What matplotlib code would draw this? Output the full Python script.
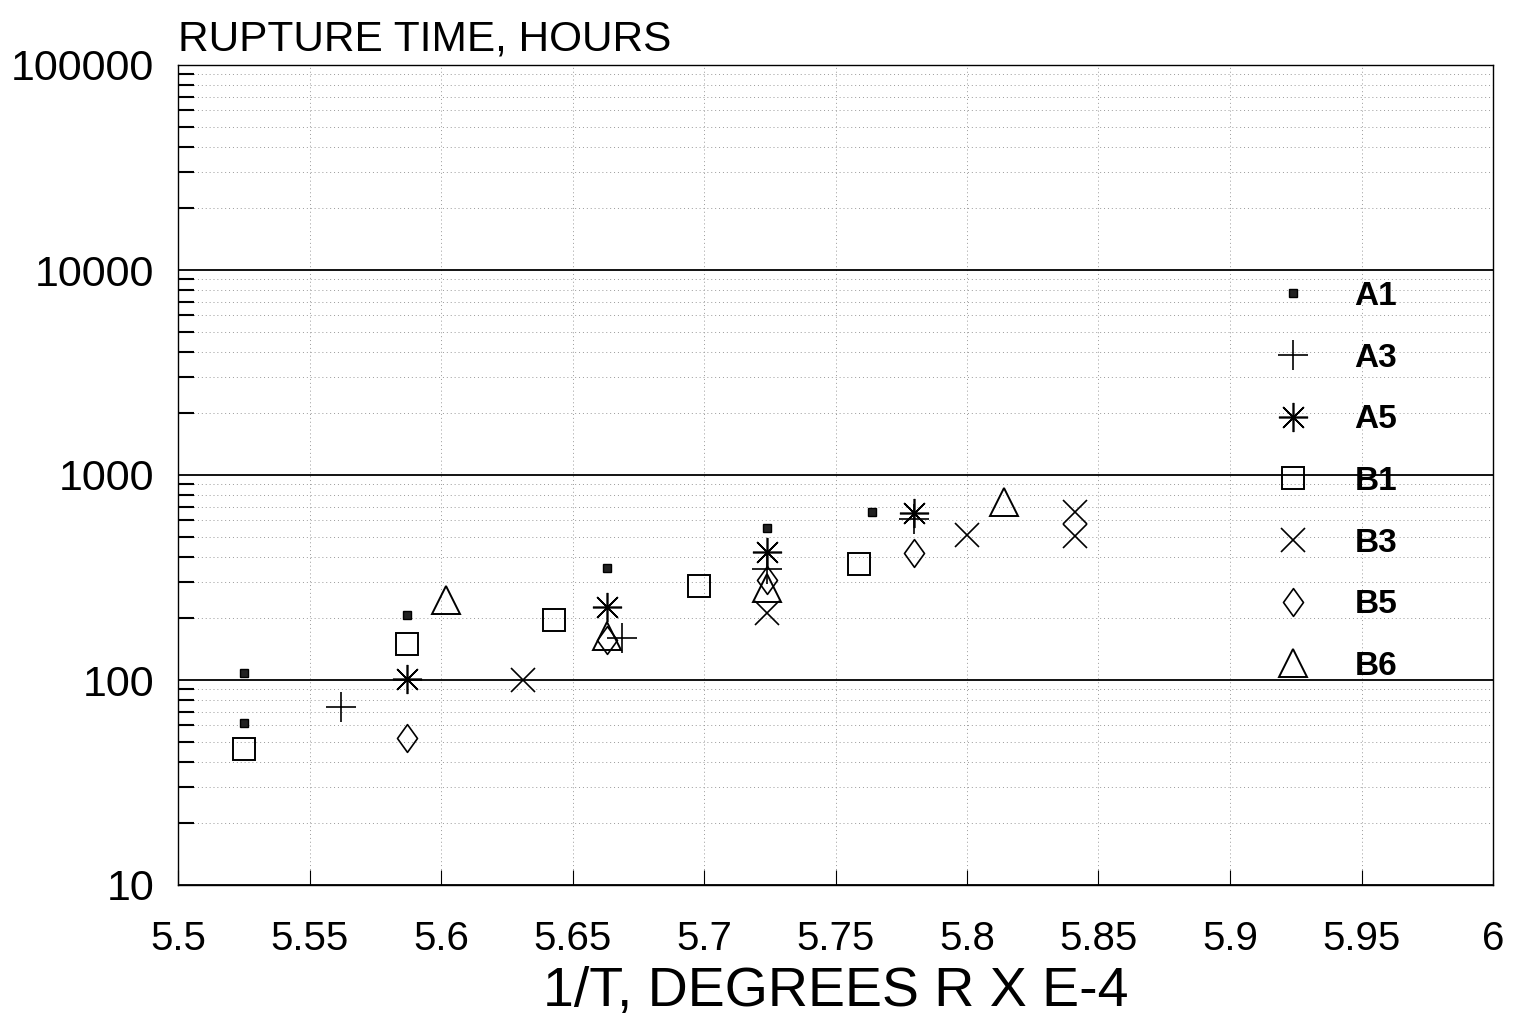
import matplotlib
matplotlib.use("Agg")
import matplotlib.pyplot as plt
from matplotlib.path import Path
from matplotlib.lines import Line2D
from matplotlib.ticker import FixedLocator, LogLocator, NullFormatter, FixedFormatter

plt.rcParams['font.family'] = ['Liberation Sans', 'DejaVu Sans']

# ---- data (1/T x 1e4, rupture time in hours) ----
A1_x = [5.525, 5.525, 5.587, 5.663, 5.724, 5.764]
A1_y = [108, 62, 208, 352, 551, 661]
A3_x = [5.562, 5.669, 5.724, 5.780]
A3_y = [74, 160, 347, 608]
A5_x = [5.587, 5.663, 5.724, 5.780]
A5_y = [101, 227, 421, 655]
B1_x = [5.525, 5.587, 5.643, 5.698, 5.759]
B1_y = [46, 150, 196, 287, 368]
B3_x = [5.631, 5.724, 5.800, 5.841, 5.841]
B3_y = [100, 212, 510, 660, 504]
B5_x = [5.587, 5.663, 5.724, 5.780]
B5_y = [52, 157, 306, 415]
B6_x = [5.602, 5.663, 5.724, 5.814]
B6_y = [246, 164, 281, 737]

series_names = ["A1", "A3", "A5", "B1", "B3", "B5", "B6"]
x_ticks = [5.5, 5.55, 5.6, 5.65, 5.7, 5.75, 5.8, 5.85, 5.9, 5.95, 6.0]
x_ticklabels = ["5.5", "5.55", "5.6", "5.65", "5.7", "5.75", "5.8", "5.85", "5.9", "5.95", "6"]
y_ticks = [10, 100, 1000, 10000, 100000]
y_ticklabels = ["10", "100", "1000", "10000", "100000"]

diamond = Path([(0, 1), (0.72, 0), (0, -1), (-0.72, 0), (0, 1)],
               [Path.MOVETO, Path.LINETO, Path.LINETO, Path.LINETO, Path.CLOSEPOLY])

styles = {
    "A1": dict(marker='s', ms=6, mfc='#222222', mec='black', mew=1.0),
    "A3": dict(marker='+', ms=21, mec='black', mew=1.2),
    "A5": dict(marker=(8, 2, 0), ms=21, mec='black', mew=1.2),
    "B1": dict(marker='s', ms=16, mfc='none', mec='black', mew=1.4),
    "B3": dict(marker='x', ms=17, mec='black', mew=1.2),
    "B5": dict(marker=diamond, ms=20, mfc='none', mec='black', mew=1.2),
    "B6": dict(marker='^', ms=20, mfc='none', mec='black', mew=1.4),
}
data = {"A1": (A1_x, A1_y), "A3": (A3_x, A3_y), "A5": (A5_x, A5_y),
        "B1": (B1_x, B1_y), "B3": (B3_x, B3_y), "B5": (B5_x, B5_y), "B6": (B6_x, B6_y)}

W, H = 1519, 1017
fig = plt.figure(figsize=(W / 100, H / 100), dpi=100)
ax = fig.add_axes([178 / W, 1 - 885 / H, (1493 - 178) / W, (885 - 65) / H])

ax.set_yscale('log')
ax.set_xlim(5.5, 6.0)
ax.set_ylim(10, 100000)

# grid
ax.yaxis.set_minor_locator(LogLocator(base=10, subs=range(2, 10)))
ax.yaxis.set_minor_formatter(NullFormatter())
ax.yaxis.set_major_locator(FixedLocator(y_ticks))
ax.yaxis.set_major_formatter(FixedFormatter(y_ticklabels))
ax.set_xticks(x_ticks)
ax.set_xticklabels(x_ticklabels)
ax.grid(which='major', axis='y', color='black', lw=1.3, ls='-')
ax.grid(which='minor', axis='y', color='#999999', lw=0.7, ls=(0, (1, 3)))
ax.grid(which='major', axis='x', color='#999999', lw=0.7, ls=(0, (1, 3)))
ax.set_axisbelow(True)

ax.tick_params(axis='x', which='major', direction='in', length=11, width=0.8,
               labelsize=29, pad=25, top=False)
ax.tick_params(axis='y', which='major', direction='in', length=0,
               labelsize=31, pad=17)
ax.tick_params(axis='y', which='minor', direction='in', length=11.5, width=1.5)
for sp in ax.spines.values():
    sp.set_linewidth(1.0)

handles = []
for name in series_names:
    xs, ys = data[name]
    ax.plot(xs, ys, ls='none', **styles[name])
    handles.append(Line2D([], [], ls='none', **styles[name]))

leg = ax.legend(handles, series_names, loc='upper left',
                bbox_to_anchor=(1276 / W, 1 - 281 / H), bbox_transform=fig.transFigure,
                frameon=False, borderpad=0, borderaxespad=0,
                handlelength=1.0, handletextpad=1.36, labelspacing=0.92,
                prop=dict(size=24, weight='bold'), numpoints=1)

fig.text(178 / W, 1 - 50 / H, "RUPTURE TIME, HOURS", fontsize=30.5,
         ha='left', va='baseline')
fig.text((178 + 1493) / 2 / W, 1 - 1006 / H, "1/T, DEGREES R X E-4", fontsize=40,
         ha='center', va='baseline')

fig.savefig("out.png", dpi=100)
